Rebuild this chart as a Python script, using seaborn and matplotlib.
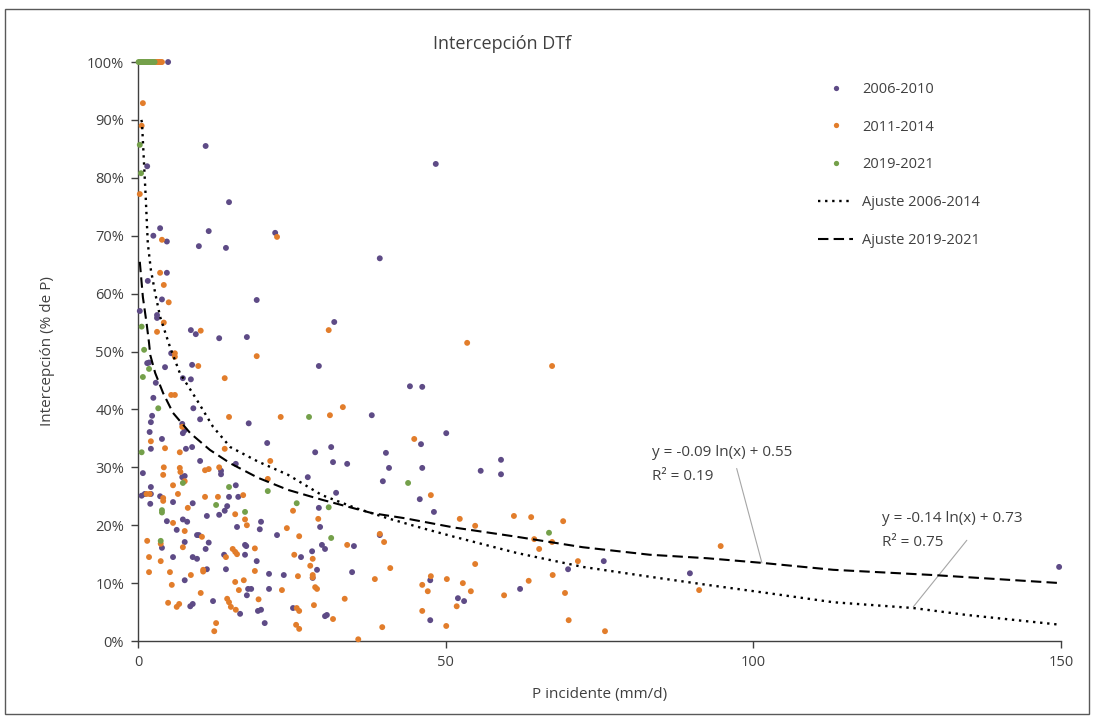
import matplotlib

matplotlib.use("Agg")
import matplotlib.pyplot as plt
import pandas as pd
import seaborn as sns
from matplotlib.lines import Line2D
from matplotlib.patches import Rectangle
from matplotlib.ticker import PercentFormatter

# --- data (P in mm/d, interception in % of P) --------------------------------
p_0610 = [4.9, 1.5, 11.0, 14.8, 3.6, 2.5, 4.7, 11.5, 9.9, 14.3, 4.7, 1.6, 3.9, 19.3, 0.3, 3.1,
          3.1, 8.6, 9.4, 13.2, 17.7, 48.4, 22.3, 39.3, 31.9, 1.5, 1.8, 5.4, 4.4, 8.8, 2.9, 7.3,
          8.6, 2.5, 9.0, 10.1, 18.0, 2.3, 2.1, 7.2, 7.6, 7.3, 1.9, 3.9, 2.1, 7.8, 8.8, 10.1,
          0.8, 13.5, 13.5, 15.9, 7.2, 7.6, 2.1, 15.9, 1.1, 2.1, 3.6, 14.8, 16.3, 0.6, 2.0, 5.7,
          8.9, 14.5, 11.2, 13.2, 14.1, 4.7, 7.3, 8.0, 16.1, 6.3, 9.6, 9.9, 3.9, 7.6, 11.5, 11.0,
          17.4, 17.6, 17.4, 14.0, 5.7, 8.9, 9.6, 19.3, 11.2, 14.3, 7.6, 17.9, 18.4, 17.7, 12.2,
          8.5, 8.9, 16.6, 19.5, 29.4, 44.2, 46.2, 38.0, 50.1, 21.0, 28.8, 31.4, 46.0, 31.7, 34.0,
          40.3, 40.8, 46.2, 27.6, 39.8, 32.2, 29.4, 45.8, 48.1, 20.0, 19.8, 29.6, 22.6, 39.3,
          35.1, 29.9, 30.4, 28.3, 26.5, 29.1, 34.8, 21.3, 23.7, 28.4, 47.5, 21.3, 25.2, 20.0,
          30.4, 30.7, 47.5, 20.6, 59.0, 59.0, 55.7, 75.7, 69.9, 89.7, 62.1, 52.0, 53.0, 149.7]
i_0610 = [100, 82.0, 85.5, 75.8, 71.3, 70.0, 69.0, 70.8, 68.2, 67.9, 63.6, 62.2, 59.0, 58.9, 57.0,
          56.3, 55.8, 53.7, 53.0, 52.3, 52.5, 82.4, 70.5, 66.1, 55.1, 48.0, 48.1, 49.7, 47.3,
          47.7, 44.6, 45.4, 45.2, 42.0, 40.2, 38.3, 37.6, 38.9, 37.8, 37.5, 36.4, 35.9, 36.1,
          34.9, 33.2, 33.2, 33.5, 31.1, 29.0, 29.4, 28.8, 30.6, 28.3, 28.5, 26.6, 26.9, 25.4,
          25.4, 25.0, 24.9, 24.9, 25.1, 23.7, 24.0, 23.8, 23.3, 21.6, 21.8, 22.5, 20.7, 21.0,
          20.6, 19.7, 19.2, 18.3, 18.3, 16.1, 17.1, 17.0, 15.9, 16.6, 16.4, 14.9, 14.9, 14.5,
          14.5, 14.2, 13.8, 12.4, 12.4, 10.5, 9.0, 9.0, 7.9, 6.9, 6.0, 6.4, 4.7, 5.2, 47.5, 44.0,
          43.9, 39.0, 35.9, 34.2, 32.6, 33.5, 34.0, 30.9, 30.6, 32.5, 29.9, 29.9, 28.3, 27.6,
          25.6, 23.0, 24.5, 22.3, 20.6, 19.3, 19.7, 18.3, 18.3, 16.4, 16.6, 15.9, 15.5, 14.5,
          12.3, 11.9, 11.6, 11.4, 10.9, 10.5, 9.0, 5.7, 5.4, 4.3, 4.5, 3.6, 3.1, 31.3, 28.8,
          29.4, 13.8, 12.4, 11.7, 9.0, 7.4, 6.9, 12.8]

p_1114 = [2.9, 3.1, 3.3, 3.5, 3.7, 3.9, 0.8, 0.6, 0.3, 3.9, 3.6, 4.2, 5.0, 4.2, 3.1, 10.2, 22.6,
          31.0, 6.0, 6.0, 9.8, 14.1, 5.4, 6.0, 14.8, 7.2, 2.1, 4.4, 6.8, 14.1, 4.2, 6.8, 6.9,
          10.9, 11.5, 13.2, 4.1, 7.6, 5.7, 1.4, 1.9, 4.1, 6.5, 10.9, 13.0, 17.1, 4.1, 8.1, 15.8,
          17.4, 5.7, 17.7, 7.6, 10.4, 1.5, 3.7, 7.3, 15.4, 15.8, 16.1, 14.3, 19.0, 1.8, 3.7, 1.8,
          5.2, 10.6, 10.6, 8.6, 19.0, 5.5, 15.8, 17.2, 16.4, 19.6, 10.2, 14.5, 14.8, 4.9, 6.7,
          6.3, 15.1, 15.9, 12.7, 12.4, 19.3, 33.3, 23.2, 31.2, 44.9, 21.5, 21.1, 47.6, 25.2,
          29.3, 24.2, 26.2, 39.3, 40.0, 34.0, 25.4, 28.4, 28.0, 41.0, 26.0, 28.4, 28.4, 28.8,
          29.1, 38.5, 47.6, 50.2, 46.2, 47.1, 23.4, 33.6, 28.6, 25.8, 26.2, 46.2, 31.7, 25.7,
          26.2, 39.7, 50.1, 35.8, 53.5, 67.3, 52.3, 54.8, 61.1, 63.9, 69.1, 64.4, 67.3, 65.2,
          71.5, 54.8, 67.4, 91.2, 63.5, 52.8, 54.1, 59.5, 69.4, 51.8, 70.0, 75.9, 94.7]
i_1114 = [100, 100, 100, 100, 100, 100, 92.9, 89.0, 77.2, 69.3, 63.6, 61.5, 58.5, 55.0, 53.4,
          53.6, 69.8, 53.7, 49.7, 49.1, 47.5, 45.4, 42.5, 42.5, 38.7, 37.0, 34.5, 33.3, 32.6,
          33.2, 30.0, 29.9, 29.2, 29.5, 29.7, 30.0, 28.7, 27.6, 26.9, 25.4, 25.4, 24.7, 25.4,
          24.9, 24.9, 25.2, 24.2, 23.0, 21.9, 21.0, 20.4, 20.0, 19.0, 18.0, 17.3, 16.8, 16.2,
          15.9, 15.4, 15.0, 14.5, 16.0, 14.5, 13.8, 11.9, 11.9, 12.3, 12.0, 11.4, 12.1, 9.7,
          10.2, 10.5, 8.8, 7.2, 8.3, 7.3, 6.7, 6.6, 6.4, 5.9, 5.9, 5.4, 3.1, 1.7, 49.2, 40.4,
          38.7, 39.0, 34.9, 31.1, 28.0, 25.2, 22.5, 21.1, 19.5, 18.1, 18.5, 17.1, 16.6, 14.9,
          14.2, 13.0, 12.6, 11.2, 11.4, 11.0, 9.3, 9.0, 10.7, 11.2, 10.7, 9.7, 8.6, 8.8, 7.3,
          6.2, 5.7, 5.2, 5.2, 3.8, 2.8, 2.1, 2.4, 2.6, 0.3, 51.5, 47.5, 21.1, 19.9, 21.6, 21.4,
          20.7, 17.6, 17.1, 15.9, 13.8, 13.3, 11.4, 8.8, 10.4, 10.0, 8.6, 7.9, 8.3, 6.0, 3.6,
          1.7, 16.4]

p_1921 = [0.1, 0.3, 0.5, 0.7, 0.9, 1.1, 1.3, 1.5, 1.7, 1.9, 2.1, 2.3, 2.5, 2.7, 0.3, 0.5, 0.6,
          1.0, 1.8, 0.8, 3.3, 0.6, 7.3, 14.8, 3.9, 3.9, 12.7, 17.4, 3.7, 21.1, 25.8, 27.8, 31.0,
          31.4, 43.9, 66.8]
i_1921 = [100, 100, 100, 100, 100, 100, 100, 100, 100, 100, 100, 100, 100, 100, 85.7, 80.8,
          54.3, 50.3, 47.0, 45.6, 40.2, 32.6, 27.3, 26.6, 22.6, 22.2, 23.5, 22.3, 17.3, 25.9,
          23.8, 38.7, 23.1, 17.8, 27.3, 18.7]

# fitted curves
fit_p_0614 = [0.55, 0.65, 1.25, 1.6, 2.1, 2.8, 3.6, 5.2, 6.8, 9.6, 12.2, 15.0, 19.5, 24.4, 29.9,
              35.3, 40.6, 46.2, 51.4, 61.6, 72.3, 83.2, 92.5, 102.2, 113.0, 126.0, 134.7, 150.0]
fit_i_0614 = [90.0, 89.6, 76.9, 68.7, 64.1, 60.1, 56.0, 50.8, 46.3, 41.6, 37.0, 33.5, 31.0, 28.7,
              25.2, 23.0, 21.2, 19.5, 18.0, 15.2, 12.8, 11.1, 9.7, 8.3, 6.7, 5.7, 4.5, 2.8]
fit_p_1921 = [0.3, 0.8, 1.4, 1.8, 2.0, 2.8, 4.1, 5.7, 8.5, 11.7, 15.0, 19.5, 24.4, 29.9, 38.0,
              43.4, 51.4, 61.6, 72.3, 83.2, 92.5, 101.4, 113.0, 129.2, 150.0]
fit_i_1921 = [65.5, 59.4, 54.9, 51.5, 49.4, 46.3, 42.8, 39.4, 35.9, 33.0, 30.7, 28.2, 26.1, 24.4,
              22.1, 21.2, 19.6, 18.0, 16.2, 14.9, 14.3, 13.5, 12.3, 11.4, 10.0]

PERIODS = ["2006-2010", "2011-2014", "2019-2021"]
COLORS = {"2006-2010": "#5e4b86", "2011-2014": "#e27d2b", "2019-2021": "#74a04a"}


def main() -> None:
    sns.set_theme(style="white")
    plt.rcParams["font.family"] = ["Open Sans", "DejaVu Sans"]
    text_col = "#404040"

    df = pd.concat([
        pd.DataFrame({"P": p_0610, "I": i_0610, "periodo": PERIODS[0]}),
        pd.DataFrame({"P": p_1114, "I": i_1114, "periodo": PERIODS[1]}),
        pd.DataFrame({"P": p_1921, "I": i_1921, "periodo": PERIODS[2]}),
    ], ignore_index=True)

    fig, ax = plt.subplots(figsize=(10.94, 7.18), dpi=100)
    fig.subplots_adjust(left=0.1261, right=0.9698, bottom=0.1072, top=0.9136)

    sns.scatterplot(data=df, x="P", y="I", hue="periodo", hue_order=PERIODS, palette=COLORS,
                    s=18, linewidth=0, legend=False, clip_on=False, ax=ax, zorder=3)

    dotted = (0, (1, 2))
    dashed = (0, (5, 2.5))
    ax.plot(fit_p_0614, fit_i_0614, color="black", lw=1.7, linestyle=dotted, zorder=4)
    ax.plot(fit_p_1921, fit_i_1921, color="black", lw=1.5, linestyle=dashed, zorder=4)

    # trendline labels
    ann = dict(fontsize=11, color=text_col, va="center")
    ax.text(83.6, 32.5, "y = -0.09 ln(x) + 0.55", **ann)
    ax.text(83.6, 28.5, "R\u00b2 = 0.19", **ann)
    ax.text(120.9, 21.1, "y = -0.14 ln(x) + 0.73", **ann)
    ax.text(120.9, 17.1, "R\u00b2 = 0.75", **ann)
    leader = dict(arrowstyle="-", color="#a6a6a6", lw=0.8, shrinkA=0, shrinkB=0)
    ax.annotate("", xy=(101.4, 13.5), xytext=(97.3, 29.8), arrowprops=leader)
    ax.annotate("", xy=(126.0, 5.9), xytext=(134.7, 17.4), arrowprops=leader)

    ax.set_xlim(0, 150)
    ax.set_ylim(0, 100)
    ax.set_xticks([0, 50, 100, 150])
    ax.set_yticks(range(0, 101, 10))
    ax.yaxis.set_major_formatter(PercentFormatter(100, decimals=0))
    ax.tick_params(axis="both", direction="out", length=5, width=1, color="#404040",
                   labelsize=10.5, labelcolor=text_col, pad=5, bottom=True, left=True)
    for side in ["top", "right"]:
        ax.spines[side].set_visible(False)
    for side in ["left", "bottom"]:
        ax.spines[side].set_color("#404040")
        ax.spines[side].set_linewidth(1)

    fig.text(0.459, 0.939, "Intercepción DTf", fontsize=13, color=text_col,
             ha="center", va="center")
    ax.set_xlabel("P incidente (mm/d)", fontsize=11, color=text_col, labelpad=12)
    ax.set_ylabel("Intercepción (% de P)", fontsize=11, color=text_col, labelpad=23)

    handles = [
        Line2D([], [], marker="o", ls="", ms=3.8, mew=0, color=COLORS[p]) for p in PERIODS
    ] + [
        Line2D([], [], color="black", lw=1.7, linestyle=dotted),
        Line2D([], [], color="black", lw=1.5, linestyle=dashed),
    ]
    labels = PERIODS + ["Ajuste 2006-2014", "Ajuste 2019-2021"]
    leg = ax.legend(handles, labels, loc="upper left", bbox_to_anchor=(0.748, 0.886),
                    bbox_transform=fig.transFigure, frameon=False, fontsize=10.5,
                    labelspacing=1.56, handlelength=2.4, handletextpad=0.6,
                    borderpad=0, borderaxespad=0)
    for t in leg.get_texts():
        t.set_color(text_col)

    # thin frame around the whole chart area
    fig.patches.append(Rectangle((0.005, 0.005), 0.99, 0.983, transform=fig.transFigure,
                                 fill=False, edgecolor="#595959", lw=1))

    fig.savefig("out.png", dpi=100)
    plt.close(fig)


if __name__ == "__main__":
    main()
